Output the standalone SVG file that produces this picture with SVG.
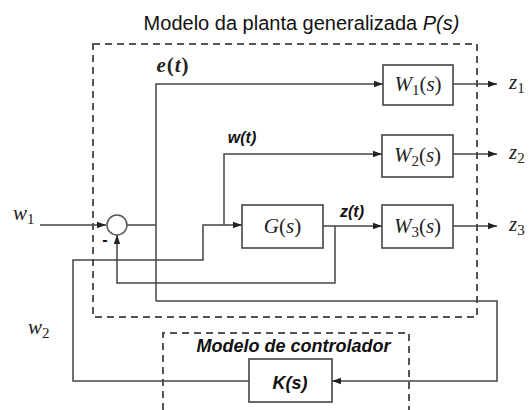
<svg xmlns="http://www.w3.org/2000/svg" width="530" height="410" viewBox="0 0 530 410">
<style>
.bg{fill:#ffffff}
.dash{fill:none;stroke:#555;stroke-width:2;stroke-dasharray:7,5}
.blk{fill:#fff;stroke:#444;stroke-width:1.6}
.ln{fill:none;stroke:#444;stroke-width:1.5}
.m{font-family:"Liberation Serif","Times New Roman",serif;font-style:italic;font-size:21px;fill:#222}
.sans{font-family:"Liberation Sans",Arial,sans-serif;fill:#111}
.bi{font-family:"Liberation Sans",Arial,sans-serif;font-style:italic;font-weight:bold;fill:#111}
</style>
<defs>
<marker id="ah" markerUnits="userSpaceOnUse" markerWidth="10" markerHeight="8" refX="9" refY="4" orient="auto">
<path d="M0,0.8 L9,4 L0,7.2 Z" fill="#222"/>
</marker>
</defs>
<rect class="bg" x="0" y="0" width="530" height="410"/>

<g id="title">
<text class="sans" x="301.5" y="30" font-size="20" text-anchor="middle">Modelo da planta generalizada <tspan font-style="italic">P(s)</tspan></text>
</g>

<g id="plant-boundary">
<rect class="dash" x="93" y="44" width="384" height="273"/>
</g>
<g id="controller-boundary">
<path class="dash" d="M163,410 V333 H409 V410"/>
<text class="bi" x="293.5" y="352" font-size="18" text-anchor="middle">Modelo de controlador</text>
</g>

<g id="connectors">
<path class="ln" d="M40,225 H106" marker-end="url(#ah)"/>
<path class="ln" d="M127,225 H156"/>
<path class="ln" d="M156,301 V84 H383" marker-end="url(#ah)"/>
<path class="ln" d="M156,301 H497 V381 H332" marker-end="url(#ah)"/>
<path class="ln" d="M453,84 H497" marker-end="url(#ah)"/>
<path class="ln" d="M453,154 H497" marker-end="url(#ah)"/>
<path class="ln" d="M453,226 H497" marker-end="url(#ah)"/>
<path class="ln" d="M249,381 H73 V260 H203 V225 H242" marker-end="url(#ah)"/>
<path class="ln" d="M224,225 V154 H382" marker-end="url(#ah)"/>
<path class="ln" d="M323,226 H382" marker-end="url(#ah)"/>
<path class="ln" d="M335,226 V283 H117 V235" marker-end="url(#ah)"/>
</g>

<g id="sum">
<circle cx="117" cy="225" r="10" fill="#fff" stroke="#555" stroke-width="1.5"/>
<text class="sans" x="105" y="245" font-size="16" font-weight="bold" text-anchor="middle">-</text>
</g>

<g id="W1">
<rect class="blk" x="383" y="65" width="70" height="40"/>
<text class="m" x="418" y="91" text-anchor="middle">W<tspan font-style="normal" font-size="15" dy="4">1</tspan><tspan dy="-4" font-style="normal">(</tspan>s<tspan font-style="normal">)</tspan></text>
</g>
<g id="W2">
<rect class="blk" x="382" y="135" width="71" height="42"/>
<text class="m" x="417.5" y="162" text-anchor="middle">W<tspan font-style="normal" font-size="15" dy="4">2</tspan><tspan dy="-4" font-style="normal">(</tspan>s<tspan font-style="normal">)</tspan></text>
</g>
<g id="W3">
<rect class="blk" x="382" y="205" width="71" height="43"/>
<text class="m" x="417.5" y="233" text-anchor="middle">W<tspan font-style="normal" font-size="15" dy="4">3</tspan><tspan dy="-4" font-style="normal">(</tspan>s<tspan font-style="normal">)</tspan></text>
</g>
<g id="G">
<rect class="blk" x="242" y="205" width="81" height="43"/>
<text class="m" x="282.5" y="233" text-anchor="middle">G<tspan font-style="normal">(</tspan>s<tspan font-style="normal">)</tspan></text>
</g>
<g id="K">
<rect class="blk" x="249" y="359" width="83" height="43"/>
<text class="bi" x="290" y="389" font-size="18" text-anchor="middle">K(s)</text>
</g>

<g id="labels">
<text class="m" x="173" y="72" text-anchor="middle" font-size="19" font-weight="bold" letter-spacing="1">e<tspan font-style="normal">(</tspan>t<tspan font-style="normal">)</tspan></text>
<text class="bi" x="242" y="143" font-size="16" text-anchor="middle">w(t)</text>
<text class="bi" x="352" y="217" font-size="16" text-anchor="middle">z(t)</text>
<text class="m" x="13" y="220" font-size="23">w<tspan font-style="normal" font-size="15" dy="4">1</tspan></text>
<text class="m" x="28" y="334" font-size="23">w<tspan font-style="normal" font-size="15" dy="4">2</tspan></text>
<text class="m" x="509" y="89" font-size="22">z<tspan font-style="normal" font-size="15" dy="4">1</tspan></text>
<text class="m" x="509" y="159" font-size="22">z<tspan font-style="normal" font-size="15" dy="4">2</tspan></text>
<text class="m" x="509" y="231" font-size="22">z<tspan font-style="normal" font-size="15" dy="4">3</tspan></text>
</g>
</svg>
